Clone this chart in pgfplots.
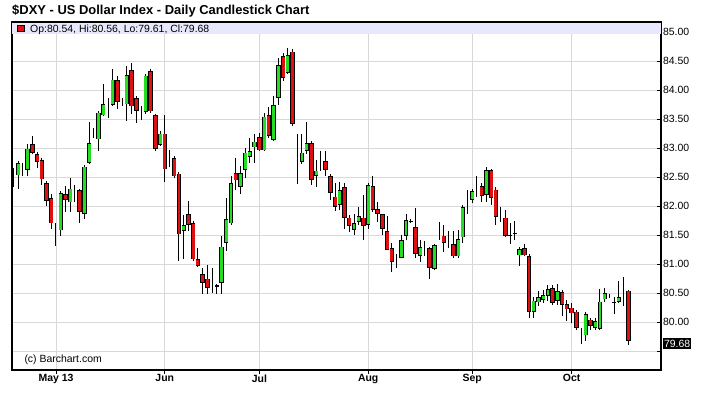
\documentclass[border=0pt]{standalone}
\usepackage{fontspec}
\setmainfont{Liberation Sans}
\usepackage{pgfplots}
\usepackage{pgfplotstable}
\pgfplotsset{compat=1.18}
\definecolor{candlegreen}{RGB}{34,221,34}
\definecolor{candlered}{RGB}{221,17,17}
\definecolor{gridgray}{RGB}{216,216,216}
\definecolor{bandblue}{RGB}{232,232,252}

% k: 1 = up (close above open), 2 = down, 0 = doji (open = close)
\pgfplotstableread{
i O H L C k
0 82.62 82.66 82.32 82.56 2
1 82.53 82.78 82.29 82.74 1
2 82.61 82.75 82.52 82.64 1
3 82.62 83.06 82.51 82.99 1
4 83.06 83.20 82.89 82.92 2
5 82.89 82.93 82.66 82.76 2
6 82.79 82.83 82.37 82.46 2
7 82.39 82.43 82.00 82.09 2
8 82.14 82.20 81.60 81.70 2
9 81.67 81.70 81.31 81.60 2
10 81.58 82.26 81.48 82.22 1
11 82.20 82.34 81.89 82.10 2
12 82.06 82.49 81.89 82.30 1
13 82.34 82.36 82.06 82.28 2
14 82.27 82.29 81.71 81.90 2
15 81.87 82.70 81.77 82.68 1
16 82.74 83.44 82.72 83.08 1
17 83.25 83.35 83.18 83.27 1
18 83.15 83.64 82.95 83.61 1
19 83.56 84.10 83.55 83.75 1
20 83.71 83.87 83.52 83.75 1
21 83.74 84.36 83.72 84.18 1
22 84.17 84.24 83.68 83.79 2
23 83.76 83.87 83.72 83.81 1
24 83.75 84.41 83.47 84.25 1
25 84.34 84.47 83.58 83.72 2
26 83.86 83.90 83.44 83.64 2
27 83.61 83.72 83.49 83.65 1
28 83.62 84.28 83.58 84.25 1
29 84.32 84.36 83.61 83.63 2
30 83.56 83.58 82.95 82.99 2
31 83.06 83.29 83.03 83.25 1
32 83.25 83.56 82.41 82.63 2
33 82.71 82.96 82.67 82.74 1
34 82.82 82.86 82.48 82.51 2
35 82.56 82.58 81.05 81.51 2
36 81.57 81.85 81.08 81.67 1
37 81.86 82.09 81.57 81.68 2
38 81.70 81.74 81.05 81.08 2
39 81.08 81.28 80.94 80.97 2
40 80.83 80.94 80.49 80.67 2
41 80.75 80.99 80.49 80.59 2
42 80.56 80.94 80.50 80.59 1
43 80.62 80.66 80.49 80.62 0
44 80.68 81.49 80.49 81.30 1
45 81.37 82.14 81.22 81.77 1
46 81.70 82.52 81.68 82.39 1
47 82.56 82.83 82.28 82.44 2
48 82.33 82.69 82.21 82.57 1
49 82.62 83.00 82.49 82.92 1
50 82.85 83.18 82.75 82.94 1
51 83.01 83.24 82.75 83.11 1
52 83.19 83.26 82.94 82.96 2
53 82.96 83.61 82.94 83.54 1
54 83.56 83.70 83.18 83.21 2
55 83.14 83.90 83.12 83.74 1
56 83.87 84.56 83.75 84.43 1
57 84.58 84.63 84.16 84.21 2
58 84.30 84.73 84.27 84.60 1
59 84.66 84.71 83.38 83.42 2
60 82.71 83.24 82.38 82.74 1
61 82.76 83.24 82.72 82.92 1
62 82.95 83.44 82.89 83.08 1
63 83.09 83.12 82.37 82.45 2
64 82.52 82.80 82.32 82.61 1
65 82.68 82.95 82.60 82.75 1
66 82.77 82.95 82.52 82.62 2
67 82.52 82.55 82.10 82.22 2
68 82.16 82.39 81.92 81.98 2
69 82.02 82.42 81.93 82.28 1
70 82.33 82.39 81.61 81.79 2
71 81.80 81.84 81.56 81.66 2
72 81.59 81.87 81.50 81.71 1
73 81.73 81.99 81.67 81.83 1
74 81.80 82.19 81.41 81.66 2
75 81.67 82.40 81.61 82.36 1
76 82.34 82.51 81.90 81.93 2
77 81.94 82.07 81.73 81.86 2
78 81.86 81.87 81.50 81.61 2
79 81.57 81.82 81.24 81.25 2
80 81.27 81.36 80.87 81.03 2
81 81.05 81.18 80.93 81.11 1
82 81.11 81.50 81.10 81.41 1
83 81.48 81.87 81.41 81.75 1
84 81.73 81.78 81.70 81.73 0
85 81.64 81.96 81.10 81.18 2
86 81.14 81.41 81.04 81.29 1
87 81.30 81.39 81.13 81.24 2
88 81.27 81.30 80.75 80.93 2
89 80.91 81.34 80.89 81.32 1
90 81.43 81.73 81.41 81.48 1
91 81.49 81.67 81.21 81.36 2
92 81.34 81.56 81.27 81.40 1
93 81.34 81.56 81.10 81.13 2
94 81.13 81.59 81.10 81.43 1
95 81.46 82.02 81.37 81.98 1
96 81.99 82.28 81.87 82.03 1
97 82.11 82.30 82.05 82.26 1
98 82.30 82.52 82.16 82.34 1
99 82.34 82.39 82.07 82.17 2
100 82.19 82.67 82.07 82.62 1
101 82.62 82.64 82.01 82.14 2
102 82.28 82.33 81.67 81.81 2
103 81.83 81.98 81.73 81.80 2
104 81.80 81.93 81.47 81.49 2
105 81.49 81.70 81.35 81.49 0
106 81.53 81.74 81.41 81.53 0
107 81.15 81.30 80.97 81.25 1
108 81.27 81.35 81.13 81.15 2
109 81.14 81.18 80.07 80.18 2
110 80.18 80.44 80.07 80.37 1
111 80.34 80.53 80.27 80.43 1
112 80.38 80.55 80.33 80.46 1
113 80.45 80.63 80.37 80.57 1
114 80.58 80.63 80.30 80.33 2
115 80.37 80.66 80.29 80.53 1
116 80.51 80.55 80.10 80.29 2
117 80.31 80.38 80.01 80.22 2
118 80.25 80.33 79.98 80.15 2
119 80.18 80.21 79.86 79.90 2
120 79.84 79.90 79.62 79.77 2
121 79.77 80.18 79.67 80.14 1
122 80.04 80.07 79.86 79.93 2
123 79.90 80.07 79.87 80.01 1
124 79.88 80.57 79.87 80.35 1
125 80.39 80.58 80.35 80.50 1
126 80.48 80.48 80.41 80.43 2
127 80.34 80.44 80.13 80.34 0
128 80.35 80.71 80.33 80.43 1
129 80.50 80.77 80.27 80.47 2
130 80.54 80.56 79.61 79.68 2
}\dxy

\begin{document}
\begin{tikzpicture}
\path[use as bounding box] (0bp,0bp) rectangle (706bp,395bp);
\begin{axis}[
  at={(12bp,25bp)}, anchor=south west,
  width=649bp, height=348bp, scale only axis,
  xmin=-0.3, xmax=136.9, ymin=79.172, ymax=85.172,
  axis line style={black, line width=1.2bp},
  xtick={9,32,52,75,97,118},
  xticklabels={May 13,Jun,Jul,Aug,Sep,Oct},
  ytick={79.5,80,80.5,81,81.5,82,82.5,83,83.5,84,84.5,85},
  yticklabels={,80.00,80.50,81.00,81.50,82.00,82.50,83.00,83.50,84.00,84.50,85.00},
  xtick pos=bottom, ytick pos=right, yticklabel pos=right,
  tick align=inside,
  major tick length=4bp,
  tick style={black, line width=0.8bp},
  xtick style={yshift=-3.5bp},
  grid=major,
  major grid style={gridgray, line width=0.8bp},
  xticklabel style={font=\bfseries\fontsize{10.5}{12}\selectfont, text=black, yshift=-1bp},
  yticklabel style={font=\fontsize{10.5}{12}\selectfont, anchor=west, xshift=-1.5bp, text=black},
  every axis plot/.append style={draw=none, mark=none, forget plot},
]
% wicks
\addplot+[draw=none, mark=none,
  error bars/.cd, y dir=both, y explicit, error mark=none,
  error bar style={draw=black, line width=1bp}]
  table[x=i, y expr={(\thisrow{H}+\thisrow{L})/2}, y error expr={(\thisrow{H}-\thisrow{L})/2}] {\dxy};
% body outlines
\addplot+[draw=none, mark=none,
  restrict expr to domain={\thisrow{k}}{0.5:2.5},
  error bars/.cd, y dir=both, y explicit, error mark=none,
  error bar style={draw=black, line width=4.4bp, line cap=rect}]
  table[x=i, y expr={(\thisrow{O}+\thisrow{C})/2}, y error expr={max(abs(\thisrow{C}-\thisrow{O})/2-0.038,0)}] {\dxy};
% up bodies
\addplot+[draw=none, mark=none,
  restrict expr to domain={\thisrow{k}}{0.5:1.5},
  error bars/.cd, y dir=both, y explicit, error mark=none,
  error bar style={draw=candlegreen, line width=2.9bp, line cap=rect}]
  table[x=i, y expr={(\thisrow{O}+\thisrow{C})/2}, y error expr={max(abs(\thisrow{C}-\thisrow{O})/2-0.038,0)}] {\dxy};
% down bodies
\addplot+[draw=none, mark=none,
  restrict expr to domain={\thisrow{k}}{1.5:2.5},
  error bars/.cd, y dir=both, y explicit, error mark=none,
  error bar style={draw=candlered, line width=2.9bp, line cap=rect}]
  table[x=i, y expr={(\thisrow{O}+\thisrow{C})/2}, y error expr={max(abs(\thisrow{C}-\thisrow{O})/2-0.038,0)}] {\dxy};
% doji: horizontal bar at the close
\addplot+[draw=none, mark=none,
  restrict expr to domain={\thisrow{k}}{-0.5:0.5},
  error bars/.cd, x dir=both, x fixed=0.45, error mark=none,
  error bar style={draw=black, line width=1.4bp}]
  table[x=i, y expr={\thisrow{C}}] {\dxy};
% header band
\fill[bandblue] (rel axis cs:0,1) rectangle (rel axis cs:1,{1-12/348});
\draw[black, line width=1.2bp] (rel axis cs:0,1) -- (rel axis cs:1,1);
\end{axis}
\node[anchor=base west, inner sep=0, font=\bfseries\fontsize{13}{15}\selectfont] at (12bp,380.5bp) {\$DXY - US Dollar Index - Daily Candlestick Chart};
\filldraw[fill=candlered, draw=black, line width=0.6bp] (17.5bp,363.5bp) rectangle (24bp,370bp);
\node[anchor=base west, inner sep=0, font=\fontsize{10.5}{12}\selectfont] at (30bp,362.8bp) {Op:80.54, Hi:80.56, Lo:79.61, Cl:79.68};
\node[anchor=base west, inner sep=0, font=\fontsize{10.5}{12}\selectfont] at (24.3bp,33bp) {(c) Barchart.com};
\node[anchor=west, fill=black, text=white, inner sep=1.3bp, font=\fontsize{10.5}{12}\selectfont] at (662.5bp,51.5bp) {79.68};
\end{tikzpicture}
\end{document}
